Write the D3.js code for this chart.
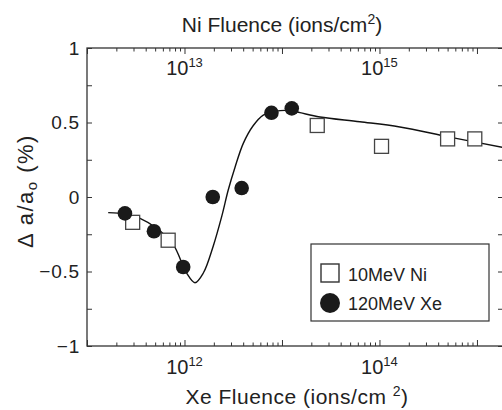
<!DOCTYPE html>
<html><head><meta charset="utf-8">
<script src="https://cdn.jsdelivr.net/npm/d3@7"></script>
<style>
html,body{margin:0;padding:0;background:#fff;}
svg{display:block;font-family:"Liberation Sans",Arial,sans-serif;}
</style></head>
<body><svg id="c" width="502" height="410"></svg>
<script>
// ---- data ----
const xeFluence = [2.45e11, 4.86e11, 9.7e11, 1.95e12, 3.86e12, 7.8e12, 1.26e13];
const xeValues  = [-0.11, -0.23, -0.47, 0.0, 0.06, 0.565, 0.595];
const niFluence = [2.94e12, 6.8e12, 2.3e14, 1.05e15, 5.0e15, 9.5e15];
const niValues  = [-0.17, -0.29, 0.48, 0.34, 0.39, 0.39];
// fitted guide line (Xe fluence axis)
const fitFluence = [1.65e11, 2.45e11, 3.5e11, 5.19e11, 7.67e11, 1.05e12, 1.28e12, 1.56e12, 1.97e12, 2.41e12, 2.81e12, 3.30e12, 4.01e12, 5.08e12, 6.43e12, 8.47e12, 1.21e13, 1.53e13, 2.45e13, 6.3e13, 1.62e14, 5.25e14, 1.85e15];
const fitValues  = [-0.105, -0.114, -0.143, -0.21, -0.32, -0.51, -0.575, -0.51, -0.33, -0.13, 0.047, 0.20, 0.36, 0.48, 0.55, 0.575, 0.58, 0.566, 0.537, 0.505, 0.47, 0.402, 0.333];
const yTicks = [-1, -0.5, 0, 0.5, 1];
const yMinor = [-0.75, -0.25, 0.25, 0.75];
const xeTickLabels = [1e12, 1e14];
const niTickLabels = [1e13, 1e15];
const legendLabels = ["10MeV Ni", "120MeV Xe"];

const svg = d3.select("#c");
const L = 87, R = 503, T = 48, B = 346;
const x = d3.scaleLog().domain([1e11, 1.85e15]).range([L, R]);
const xTop = d3.scaleLog().domain([1e12, 1.85e16]).range([L, R]);
const y = d3.scaleLinear().domain([-1, 1]).range([B, T]);
const ink = "#222";

function decades(s){ const [a,b]=s.domain(); const out=[]; for(let e=Math.ceil(Math.log10(a)); Math.pow(10,e)<=b*1.0001; e++) out.push(Math.pow(10,e)); return out; }
function minors(s){ const [a,b]=s.domain(); const out=[]; for(let e=Math.floor(Math.log10(a)); Math.pow(10,e)<=b; e++) for(let k=2;k<=9;k++){const v=k*Math.pow(10,e); if(v>a&&v<b) out.push(v);} return out; }

function styleAxis(g){ g.select(".domain").remove(); g.selectAll("line").attr("stroke", "#333").attr("stroke-width", 1); }

// frame
svg.append("rect").attr("x", L).attr("y", T).attr("width", R-L).attr("height", B-T)
  .attr("fill", "none").attr("stroke", "#333").attr("stroke-width", 1.3);

// bottom
svg.append("g").attr("transform", `translate(0,${B})`).call(d3.axisBottom(x).tickValues(decades(x)).tickSize(-6).tickFormat("")).call(styleAxis);
svg.append("g").attr("transform", `translate(0,${B})`).call(d3.axisBottom(x).tickValues(minors(x)).tickSize(-3.5).tickFormat("")).call(styleAxis);
// top
svg.append("g").attr("transform", `translate(0,${T})`).call(d3.axisTop(xTop).tickValues(decades(xTop)).tickSize(-6).tickFormat("")).call(styleAxis);
svg.append("g").attr("transform", `translate(0,${T})`).call(d3.axisTop(xTop).tickValues(minors(xTop)).tickSize(-3.5).tickFormat("")).call(styleAxis);
// left / right
svg.append("g").attr("transform", `translate(${L},0)`).call(d3.axisLeft(y).tickValues(yTicks).tickSize(-5).tickFormat("")).call(styleAxis);
svg.append("g").attr("transform", `translate(${L},0)`).call(d3.axisLeft(y).tickValues(yMinor).tickSize(-5).tickFormat("")).call(styleAxis);
svg.append("g").attr("transform", `translate(${R},0)`).call(d3.axisRight(y).tickValues(yTicks.concat(yMinor)).tickSize(-5).tickFormat("")).call(styleAxis);

// y tick labels
svg.append("g").selectAll("text").data(yTicks).join("text")
  .attr("x", L-7).attr("y", d=>y(d)).attr("dy", "0.36em").attr("text-anchor", "end")
  .attr("font-size", 19).attr("letter-spacing", 0.8).attr("fill", ink)
  .text(d => d === 0 ? "0" : (d < 0 ? "\u2212" + Math.abs(d) : String(d)));

function powLabel(g, s, vals, baseY){
  const t = g.selectAll("text").data(vals).join("text")
    .attr("x", d=>s(d)).attr("y", baseY).attr("text-anchor", "middle")
    .attr("font-size", 20).attr("fill", ink);
  t.append("tspan").text("10");
  t.append("tspan").attr("font-size", 13).attr("dy", -8).text(d=>Math.round(Math.log10(d)));
}
powLabel(svg.append("g"), x, xeTickLabels, 374);
powLabel(svg.append("g"), xTop, niTickLabels, 75);

// titles
const tTop = svg.append("text").attr("x", 282).attr("y", 32).attr("text-anchor", "middle").attr("font-size", 21).attr("fill", ink);
tTop.append("tspan").text("Ni Fluence (ions/cm");
tTop.append("tspan").attr("font-size", 14).attr("dy", -8).text("2");
tTop.append("tspan").attr("dy", 8).text(")");

const tBot = svg.append("text").attr("x", 297).attr("y", 404).attr("text-anchor", "middle").attr("font-size", 21).attr("letter-spacing", 0.5).attr("fill", ink);
tBot.append("tspan").text("Xe Fluence (ions/cm ");
tBot.append("tspan").attr("font-size", 14).attr("dy", -8).text("2");
tBot.append("tspan").attr("dy", 8).text(")");

const tY = svg.append("text").attr("transform", "translate(33,191) rotate(-90)").attr("text-anchor", "middle").attr("font-size", 22).attr("letter-spacing", 1.5).attr("fill", ink);
tY.append("tspan").text("\u0394 a/a");
tY.append("tspan").attr("font-size", 15).attr("dy", 4).text("o");
tY.append("tspan").attr("dy", -4).text(" (%)");

// fit line
const line = d3.line().x(d=>x(d[0])).y(d=>y(d[1])).curve(d3.curveCatmullRom.alpha(0.5));
svg.append("clipPath").attr("id","pc").append("rect").attr("x",L).attr("y",T).attr("width",R-L).attr("height",B-T);
svg.append("path").attr("clip-path","url(#pc)").datum(fitFluence.map((f,i)=>[f, fitValues[i]]))
  .attr("d", line).attr("fill", "none").attr("stroke", "#111").attr("stroke-width", 1.4);

// Ni squares (top axis)
const sq = 14;
svg.append("g").selectAll("rect").data(niFluence.map((f,i)=>[f, niValues[i]])).join("rect")
  .attr("x", d=>xTop(d[0])-sq/2).attr("y", d=>y(d[1])-sq/2).attr("width", sq).attr("height", sq)
  .attr("fill", "#fff").attr("stroke", "#444").attr("stroke-width", 1.3);

// Xe circles
svg.append("g").selectAll("circle").data(xeFluence.map((f,i)=>[f, xeValues[i]])).join("circle")
  .attr("cx", d=>x(d[0])).attr("cy", d=>y(d[1])).attr("r", 7.3).attr("fill", "#1a1a1a");

// legend
const lg = svg.append("g");
lg.append("rect").attr("x", 311).attr("y", 244).attr("width", 178).attr("height", 77)
  .attr("fill", "#fff").attr("stroke", "#333").attr("stroke-width", 1.2);
lg.append("rect").attr("x", 321).attr("y", 264).attr("width", 18).attr("height", 18)
  .attr("fill", "#fff").attr("stroke", "#333").attr("stroke-width", 1.4);
lg.append("circle").attr("cx", 330).attr("cy", 303).attr("r", 10).attr("fill", "#1a1a1a");
lg.selectAll("text.l").data(legendLabels).join("text").attr("class","l")
  .attr("x", 348).attr("y", (d,i)=> i===0 ? 281 : 310).attr("font-size", 18).attr("fill", ink).text(d=>d);
</script></body></html>
